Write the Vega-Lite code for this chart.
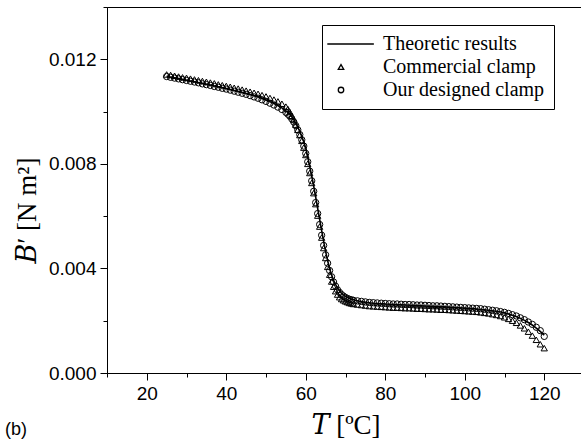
{
  "$schema": "https://vega.github.io/schema/vega-lite/v6.json",
  "width": 477,
  "height": 366,
  "autosize": {"type": "none"},
  "padding": {"left": 107, "top": 7, "right": 0, "bottom": 66},
  "background": "white",
  "config": {"view": {"stroke": "black", "strokeWidth": 1}},
  "title": {"text": "(b)", "orient": "bottom", "anchor": "start", "frame": "group", "font": "Liberation Sans", "fontSize": 18, "fontWeight": "normal", "color": "black", "dx": -102, "offset": -17},
  "datasets": {
    "theory": [
      {"T":25,"B":0.01135},{"T":28,"B":0.01126},{"T":31,"B":0.01117},{"T":34,"B":0.01108},{"T":37,"B":0.01098},
      {"T":40,"B":0.01088},{"T":43,"B":0.01077},{"T":46,"B":0.01065},{"T":49,"B":0.01050},{"T":52,"B":0.01031},
      {"T":54,"B":0.01014},{"T":55,"B":0.01003},{"T":56,"B":0.00990},{"T":57,"B":0.00968},{"T":58,"B":0.00940},
      {"T":59,"B":0.00905},{"T":60,"B":0.00860},{"T":61,"B":0.00790},{"T":62,"B":0.00715},{"T":63,"B":0.00630},
      {"T":64,"B":0.00545},{"T":65,"B":0.00465},{"T":66,"B":0.00400},{"T":67,"B":0.00355},{"T":68,"B":0.00325},
      {"T":69,"B":0.00305},{"T":70,"B":0.00293},{"T":71,"B":0.00285},{"T":72,"B":0.00280},{"T":74,"B":0.00273},
      {"T":76,"B":0.00269},{"T":78,"B":0.00266},{"T":80,"B":0.00264},{"T":84,"B":0.00261},{"T":88,"B":0.00258},
      {"T":92,"B":0.00255},{"T":96,"B":0.00252},{"T":100,"B":0.00248},{"T":103,"B":0.00245},{"T":106,"B":0.00240},
      {"T":108,"B":0.00236},{"T":110,"B":0.00230},{"T":112,"B":0.00221},{"T":114,"B":0.00209},{"T":116,"B":0.00193},
      {"T":118,"B":0.00172},{"T":120,"B":0.00145}
    ],
    "measured": [
      {"T":25,"B":0.01134,"series":"Our designed clamp"},{"T":26,"B":0.01131,"series":"Our designed clamp"},{"T":27,"B":0.01128,"series":"Our designed clamp"},{"T":28,"B":0.01125,"series":"Our designed clamp"},{"T":29,"B":0.01122,"series":"Our designed clamp"},{"T":30,"B":0.01119,"series":"Our designed clamp"},{"T":31,"B":0.01116,"series":"Our designed clamp"},{"T":32,"B":0.01113,"series":"Our designed clamp"},{"T":33,"B":0.01110,"series":"Our designed clamp"},{"T":34,"B":0.01106,"series":"Our designed clamp"},{"T":35,"B":0.01103,"series":"Our designed clamp"},{"T":36,"B":0.01100,"series":"Our designed clamp"},{"T":37,"B":0.01096,"series":"Our designed clamp"},{"T":38,"B":0.01093,"series":"Our designed clamp"},{"T":39,"B":0.01089,"series":"Our designed clamp"},{"T":40,"B":0.01086,"series":"Our designed clamp"},{"T":41,"B":0.01082,"series":"Our designed clamp"},{"T":42,"B":0.01078,"series":"Our designed clamp"},{"T":43,"B":0.01074,"series":"Our designed clamp"},{"T":44,"B":0.01070,"series":"Our designed clamp"},{"T":45,"B":0.01066,"series":"Our designed clamp"},{"T":46,"B":0.01061,"series":"Our designed clamp"},{"T":47,"B":0.01056,"series":"Our designed clamp"},{"T":48,"B":0.01051,"series":"Our designed clamp"},{"T":49,"B":0.01045,"series":"Our designed clamp"},{"T":50,"B":0.01039,"series":"Our designed clamp"},{"T":51,"B":0.01032,"series":"Our designed clamp"},{"T":52,"B":0.01025,"series":"Our designed clamp"},{"T":53,"B":0.01017,"series":"Our designed clamp"},{"T":54,"B":0.01008,"series":"Our designed clamp"},{"T":55,"B":0.00997,"series":"Our designed clamp"},{"T":55.5,"B":0.00990,"series":"Our designed clamp"},{"T":56,"B":0.00982,"series":"Our designed clamp"},{"T":56.5,"B":0.00972,"series":"Our designed clamp"},{"T":57,"B":0.00960,"series":"Our designed clamp"},{"T":57.5,"B":0.00946,"series":"Our designed clamp"},{"T":58,"B":0.00930,"series":"Our designed clamp"},{"T":58.5,"B":0.00912,"series":"Our designed clamp"},{"T":59,"B":0.00892,"series":"Our designed clamp"},{"T":59.5,"B":0.00868,"series":"Our designed clamp"},{"T":60,"B":0.00840,"series":"Our designed clamp"},{"T":60.5,"B":0.00808,"series":"Our designed clamp"},{"T":61,"B":0.00772,"series":"Our designed clamp"},{"T":61.5,"B":0.00735,"series":"Our designed clamp"},{"T":62,"B":0.00695,"series":"Our designed clamp"},{"T":62.5,"B":0.00652,"series":"Our designed clamp"},{"T":63,"B":0.00610,"series":"Our designed clamp"},{"T":63.5,"B":0.00568,"series":"Our designed clamp"},{"T":64,"B":0.00527,"series":"Our designed clamp"},{"T":64.5,"B":0.00488,"series":"Our designed clamp"},{"T":65,"B":0.00452,"series":"Our designed clamp"},{"T":65.5,"B":0.00420,"series":"Our designed clamp"},{"T":66,"B":0.00392,"series":"Our designed clamp"},{"T":66.5,"B":0.00368,"series":"Our designed clamp"},{"T":67,"B":0.00348,"series":"Our designed clamp"},{"T":67.5,"B":0.00332,"series":"Our designed clamp"},{"T":68,"B":0.00318,"series":"Our designed clamp"},{"T":68.5,"B":0.00308,"series":"Our designed clamp"},{"T":69,"B":0.00300,"series":"Our designed clamp"},{"T":69.5,"B":0.00294,"series":"Our designed clamp"},{"T":70,"B":0.00289,"series":"Our designed clamp"},{"T":70.5,"B":0.00285,"series":"Our designed clamp"},{"T":71,"B":0.00282,"series":"Our designed clamp"},{"T":71.5,"B":0.00280,"series":"Our designed clamp"},{"T":72,"B":0.00278,"series":"Our designed clamp"},{"T":73,"B":0.00276,"series":"Our designed clamp"},{"T":74,"B":0.00274,"series":"Our designed clamp"},{"T":75,"B":0.00272,"series":"Our designed clamp"},{"T":76,"B":0.00270,"series":"Our designed clamp"},{"T":77,"B":0.00269,"series":"Our designed clamp"},{"T":78,"B":0.00268,"series":"Our designed clamp"},{"T":79,"B":0.00267,"series":"Our designed clamp"},{"T":80,"B":0.00266,"series":"Our designed clamp"},{"T":81,"B":0.00265,"series":"Our designed clamp"},{"T":82,"B":0.00264,"series":"Our designed clamp"},{"T":83,"B":0.00264,"series":"Our designed clamp"},{"T":84,"B":0.00263,"series":"Our designed clamp"},{"T":85,"B":0.00262,"series":"Our designed clamp"},{"T":86,"B":0.00262,"series":"Our designed clamp"},{"T":87,"B":0.00261,"series":"Our designed clamp"},{"T":88,"B":0.00260,"series":"Our designed clamp"},{"T":89,"B":0.00260,"series":"Our designed clamp"},{"T":90,"B":0.00259,"series":"Our designed clamp"},{"T":91,"B":0.00258,"series":"Our designed clamp"},{"T":92,"B":0.00257,"series":"Our designed clamp"},{"T":93,"B":0.00257,"series":"Our designed clamp"},{"T":94,"B":0.00256,"series":"Our designed clamp"},{"T":95,"B":0.00255,"series":"Our designed clamp"},{"T":96,"B":0.00254,"series":"Our designed clamp"},{"T":97,"B":0.00253,"series":"Our designed clamp"},{"T":98,"B":0.00252,"series":"Our designed clamp"},{"T":99,"B":0.00251,"series":"Our designed clamp"},{"T":100,"B":0.00250,"series":"Our designed clamp"},{"T":101,"B":0.00249,"series":"Our designed clamp"},{"T":102,"B":0.00248,"series":"Our designed clamp"},{"T":103,"B":0.00247,"series":"Our designed clamp"},{"T":104,"B":0.00246,"series":"Our designed clamp"},{"T":105,"B":0.00244,"series":"Our designed clamp"},{"T":106,"B":0.00242,"series":"Our designed clamp"},{"T":107,"B":0.00240,"series":"Our designed clamp"},{"T":108,"B":0.00238,"series":"Our designed clamp"},{"T":109,"B":0.00235,"series":"Our designed clamp"},{"T":110,"B":0.00232,"series":"Our designed clamp"},{"T":111,"B":0.00228,"series":"Our designed clamp"},{"T":112,"B":0.00223,"series":"Our designed clamp"},{"T":113,"B":0.00218,"series":"Our designed clamp"},{"T":114,"B":0.00211,"series":"Our designed clamp"},{"T":115,"B":0.00204,"series":"Our designed clamp"},{"T":116,"B":0.00195,"series":"Our designed clamp"},{"T":117,"B":0.00186,"series":"Our designed clamp"},{"T":118,"B":0.00175,"series":"Our designed clamp"},{"T":119,"B":0.00162,"series":"Our designed clamp"},{"T":120,"B":0.00140,"series":"Our designed clamp"},
      {"T":25,"B":0.01142,"series":"Commercial clamp"},{"T":26,"B":0.01140,"series":"Commercial clamp"},{"T":27,"B":0.01137,"series":"Commercial clamp"},{"T":28,"B":0.01134,"series":"Commercial clamp"},{"T":29,"B":0.01131,"series":"Commercial clamp"},{"T":30,"B":0.01129,"series":"Commercial clamp"},{"T":31,"B":0.01126,"series":"Commercial clamp"},{"T":32,"B":0.01123,"series":"Commercial clamp"},{"T":33,"B":0.01120,"series":"Commercial clamp"},{"T":34,"B":0.01117,"series":"Commercial clamp"},{"T":35,"B":0.01114,"series":"Commercial clamp"},{"T":36,"B":0.01111,"series":"Commercial clamp"},{"T":37,"B":0.01108,"series":"Commercial clamp"},{"T":38,"B":0.01104,"series":"Commercial clamp"},{"T":39,"B":0.01101,"series":"Commercial clamp"},{"T":40,"B":0.01098,"series":"Commercial clamp"},{"T":41,"B":0.01095,"series":"Commercial clamp"},{"T":42,"B":0.01091,"series":"Commercial clamp"},{"T":43,"B":0.01088,"series":"Commercial clamp"},{"T":44,"B":0.01084,"series":"Commercial clamp"},{"T":45,"B":0.01080,"series":"Commercial clamp"},{"T":46,"B":0.01076,"series":"Commercial clamp"},{"T":47,"B":0.01072,"series":"Commercial clamp"},{"T":48,"B":0.01068,"series":"Commercial clamp"},{"T":49,"B":0.01063,"series":"Commercial clamp"},{"T":50,"B":0.01058,"series":"Commercial clamp"},{"T":51,"B":0.01052,"series":"Commercial clamp"},{"T":52,"B":0.01046,"series":"Commercial clamp"},{"T":53,"B":0.01039,"series":"Commercial clamp"},{"T":54,"B":0.01030,"series":"Commercial clamp"},{"T":55,"B":0.01019,"series":"Commercial clamp"},{"T":55.5,"B":0.01010,"series":"Commercial clamp"},{"T":56,"B":0.00998,"series":"Commercial clamp"},{"T":56.5,"B":0.00984,"series":"Commercial clamp"},{"T":57,"B":0.00968,"series":"Commercial clamp"},{"T":57.5,"B":0.00950,"series":"Commercial clamp"},{"T":58,"B":0.00930,"series":"Commercial clamp"},{"T":58.5,"B":0.00910,"series":"Commercial clamp"},{"T":59,"B":0.00888,"series":"Commercial clamp"},{"T":59.5,"B":0.00862,"series":"Commercial clamp"},{"T":60,"B":0.00834,"series":"Commercial clamp"},{"T":60.5,"B":0.00800,"series":"Commercial clamp"},{"T":61,"B":0.00765,"series":"Commercial clamp"},{"T":61.5,"B":0.00727,"series":"Commercial clamp"},{"T":62,"B":0.00688,"series":"Commercial clamp"},{"T":62.5,"B":0.00646,"series":"Commercial clamp"},{"T":63,"B":0.00602,"series":"Commercial clamp"},{"T":63.5,"B":0.00560,"series":"Commercial clamp"},{"T":64,"B":0.00518,"series":"Commercial clamp"},{"T":64.5,"B":0.00478,"series":"Commercial clamp"},{"T":65,"B":0.00440,"series":"Commercial clamp"},{"T":65.5,"B":0.00406,"series":"Commercial clamp"},{"T":66,"B":0.00376,"series":"Commercial clamp"},{"T":66.5,"B":0.00350,"series":"Commercial clamp"},{"T":67,"B":0.00330,"series":"Commercial clamp"},{"T":67.5,"B":0.00313,"series":"Commercial clamp"},{"T":68,"B":0.00300,"series":"Commercial clamp"},{"T":68.5,"B":0.00290,"series":"Commercial clamp"},{"T":69,"B":0.00283,"series":"Commercial clamp"},{"T":69.5,"B":0.00278,"series":"Commercial clamp"},{"T":70,"B":0.00274,"series":"Commercial clamp"},{"T":70.5,"B":0.00271,"series":"Commercial clamp"},{"T":71,"B":0.00268,"series":"Commercial clamp"},{"T":71.5,"B":0.00266,"series":"Commercial clamp"},{"T":72,"B":0.00264,"series":"Commercial clamp"},{"T":73,"B":0.00262,"series":"Commercial clamp"},{"T":74,"B":0.00260,"series":"Commercial clamp"},{"T":75,"B":0.00258,"series":"Commercial clamp"},{"T":76,"B":0.00256,"series":"Commercial clamp"},{"T":77,"B":0.00255,"series":"Commercial clamp"},{"T":78,"B":0.00254,"series":"Commercial clamp"},{"T":79,"B":0.00253,"series":"Commercial clamp"},{"T":80,"B":0.00252,"series":"Commercial clamp"},{"T":81,"B":0.00251,"series":"Commercial clamp"},{"T":82,"B":0.00250,"series":"Commercial clamp"},{"T":83,"B":0.00250,"series":"Commercial clamp"},{"T":84,"B":0.00249,"series":"Commercial clamp"},{"T":85,"B":0.00248,"series":"Commercial clamp"},{"T":86,"B":0.00248,"series":"Commercial clamp"},{"T":87,"B":0.00247,"series":"Commercial clamp"},{"T":88,"B":0.00246,"series":"Commercial clamp"},{"T":89,"B":0.00246,"series":"Commercial clamp"},{"T":90,"B":0.00245,"series":"Commercial clamp"},{"T":91,"B":0.00244,"series":"Commercial clamp"},{"T":92,"B":0.00244,"series":"Commercial clamp"},{"T":93,"B":0.00243,"series":"Commercial clamp"},{"T":94,"B":0.00242,"series":"Commercial clamp"},{"T":95,"B":0.00242,"series":"Commercial clamp"},{"T":96,"B":0.00241,"series":"Commercial clamp"},{"T":97,"B":0.00240,"series":"Commercial clamp"},{"T":98,"B":0.00239,"series":"Commercial clamp"},{"T":99,"B":0.00238,"series":"Commercial clamp"},{"T":100,"B":0.00237,"series":"Commercial clamp"},{"T":101,"B":0.00236,"series":"Commercial clamp"},{"T":102,"B":0.00235,"series":"Commercial clamp"},{"T":103,"B":0.00234,"series":"Commercial clamp"},{"T":104,"B":0.00232,"series":"Commercial clamp"},{"T":105,"B":0.00230,"series":"Commercial clamp"},{"T":106,"B":0.00228,"series":"Commercial clamp"},{"T":107,"B":0.00225,"series":"Commercial clamp"},{"T":108,"B":0.00222,"series":"Commercial clamp"},{"T":109,"B":0.00218,"series":"Commercial clamp"},{"T":110,"B":0.00213,"series":"Commercial clamp"},{"T":111,"B":0.00207,"series":"Commercial clamp"},{"T":112,"B":0.00200,"series":"Commercial clamp"},{"T":113,"B":0.00192,"series":"Commercial clamp"},{"T":114,"B":0.00182,"series":"Commercial clamp"},{"T":115,"B":0.00171,"series":"Commercial clamp"},{"T":116,"B":0.00158,"series":"Commercial clamp"},{"T":117,"B":0.00143,"series":"Commercial clamp"},{"T":118,"B":0.00127,"series":"Commercial clamp"},{"T":119,"B":0.00110,"series":"Commercial clamp"},{"T":120,"B":0.00095,"series":"Commercial clamp"}
    ]
  },
  "encoding": {
    "x": {
      "field": "T", "type": "quantitative",
      "scale": {"domain": [10, 130], "nice": false, "zero": false},
      "axis": {
        "values": [10,20,30,40,50,60,70,80,90,100,110,120,130],
        "labelExpr": "datum.value % 20 == 0 ? datum.label : ''",
        "tickSize": {"condition": {"test": "datum.value % 20 == 0", "value": 7}, "value": 4},
        "grid": false, "domainColor": "black", "tickColor": "black", "labelColor": "black",
        "labelFont": "Liberation Sans", "labelFontSize": 19, "labelPadding": 4,
        "labelFlush": false, "labelOverlap": false,
        "title": "𝑇 [ºC]", "titleFont": "Liberation Serif, DejaVu Serif", "titleFontSize": 27,
        "titleFontWeight": "normal", "titleColor": "black", "titlePadding": 9
      }
    },
    "y": {
      "field": "B", "type": "quantitative",
      "scale": {"domain": [0, 0.014], "nice": false, "zero": false},
      "axis": {
        "values": [0,0.002,0.004,0.006,0.008,0.010,0.012,0.014],
        "labelExpr": "round(datum.value*1000) % 4 == 0 ? format(datum.value, '.3f') : ''",
        "tickSize": {"condition": {"test": "round(datum.value*1000) % 4 == 0", "value": 7}, "value": 4},
        "grid": false, "domainColor": "black", "tickColor": "black", "labelColor": "black",
        "labelFont": "Liberation Sans", "labelFontSize": 19, "labelPadding": 4,
        "labelFlush": false, "labelOverlap": false,
        "title": "𝐵′ [N m²]", "titleFont": "Liberation Serif, DejaVu Serif", "titleFontSize": 27,
        "titleFontWeight": "normal", "titleColor": "black",
        "titleX": -72, "titleY": 203, "titleBaseline": "alphabetic"
      }
    }
  },
  "layer": [
    {
      "data": {"name": "measured"},
      "mark": {"type": "point", "filled": false, "size": 40, "strokeWidth": 1, "color": "black", "opacity": 1},
      "encoding": {
        "shape": {
          "field": "series", "type": "nominal",
          "scale": {"domain": ["Theoretic results", "Commercial clamp", "Our designed clamp"], "range": ["M-5,0L12,0", "triangle-up", "circle"]},
          "legend": {
            "orient": "none", "legendX": 215, "legendY": 18, "title": null,
            "strokeColor": "black", "fillColor": "white", "padding": 9,
            "labelFont": "Liberation Serif", "labelFontSize": 20, "labelColor": "black",
            "labelOffset": 32, "rowPadding": 3, "labelLimit": 300,
            "symbolSize": 30, "symbolStrokeColor": "black", "symbolStrokeWidth": 1.3, "symbolFillColor": "transparent"
          }
        }
      }
    },
    {
      "data": {"name": "theory"},
      "mark": {"type": "line", "color": "black", "strokeWidth": 1.6, "interpolate": "monotone"},
      "encoding": {}
    }
  ]
}
